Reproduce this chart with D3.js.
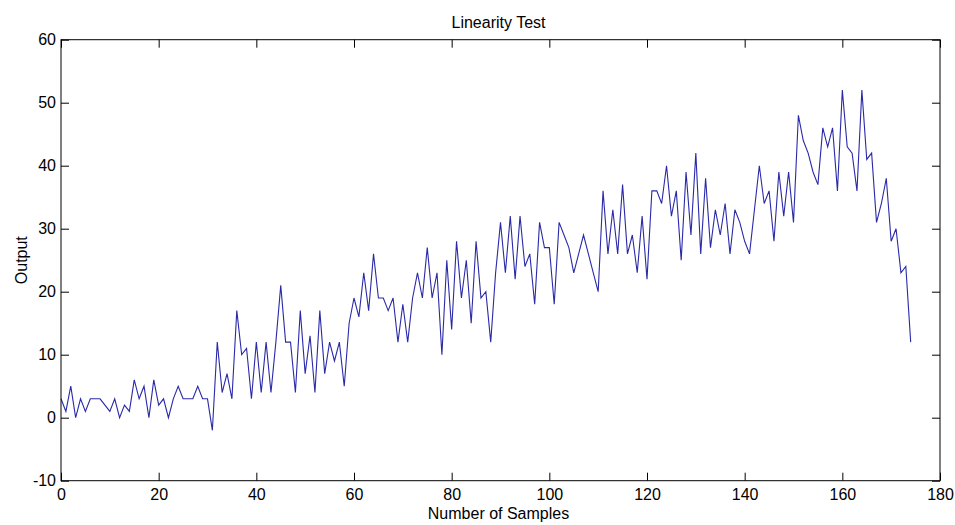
<!DOCTYPE html>
<html>
<head>
<meta charset="utf-8">
<script src="https://cdn.jsdelivr.net/npm/d3@7"></script>
<style>
  html, body { margin: 0; padding: 0; background: #fff; }
  svg { display: block; font-family: "Liberation Sans", Arial, sans-serif; }
</style>
</head>
<body>
<svg id="chart" width="955" height="525"></svg>
<script>
const titleText = "Linearity Test";
const xLabel = "Number of Samples";
const yLabel = "Output";
const xTicks = [0, 20, 40, 60, 80, 100, 120, 140, 160, 180];
const yTicks = [-10, 0, 10, 20, 30, 40, 50, 60];
const outputValues = [
  3, 1, 5, 0, 3, 1, 3, 3, 3, 2,
  1, 3, 0, 2, 1, 6, 3, 5, 0, 6,
  2, 3, 0, 3, 5, 3, 3, 3, 5, 3,
  3, -2, 12, 4, 7, 3, 17, 10, 11, 3,
  12, 4, 12, 4, 12, 21, 12, 12, 4, 17,
  7, 13, 4, 17, 7, 12, 9, 12, 5, 15,
  19, 16, 23, 17, 26, 19, 19, 17, 19, 12,
  18, 12, 19, 23, 19, 27, 19, 23, 10, 25,
  14, 28, 19, 25, 15, 28, 19, 20, 12, 23,
  31, 23, 32, 22, 32, 24, 26, 18, 31, 27,
  27, 18, 31, 29, 27, 23, 26, 29, 26, 23,
  20, 36, 26, 33, 26, 37, 26, 29, 23, 32,
  22, 36, 36, 34, 40, 32, 36, 25, 39, 29,
  42, 26, 38, 27, 33, 29, 34, 26, 33, 31,
  28, 26, 33, 40, 34, 36, 28, 39, 32, 39,
  31, 48, 44, 42, 39, 37, 46, 43, 46, 36,
  52, 43, 42, 36, 52, 41, 42, 31, 34, 38,
  28, 30, 23, 24, 12
];
const sampleIndex = outputValues.map((_, i) => i);

(function () {
const svg = d3.select("#chart");
const mLeft = 61, mRight = 940, mTop = 39.7, mBottom = 480.7;
const x = d3.scaleLinear().domain([0, 180]).range([mLeft, mRight]);
const y = d3.scaleLinear().domain([-10, 60]).range([mBottom, mTop]);
const fontSize = 16;
const plainFmt = d => String(d);

// line
const line = d3.line().x((d, i) => x(sampleIndex[i])).y(d => y(d));
svg.append("path")
  .datum(outputValues)
  .attr("fill", "none")
  .attr("stroke", "#2a2aa8")
  .attr("stroke-width", 1.1)
  .attr("stroke-linejoin", "miter")
  .attr("d", line);

// axes
function styleAxis(g) {
  g.select(".domain").remove();
  g.selectAll(".tick line").attr("stroke", "#000").attr("stroke-width", 1);
  g.selectAll(".tick text").attr("fill", "#000").attr("font-size", fontSize)
    .attr("font-family", "Liberation Sans, Arial, sans-serif");
}
svg.append("g").attr("transform", `translate(0,${mBottom})`)
  .call(d3.axisBottom(x).tickValues(xTicks).tickFormat(plainFmt).tickSizeInner(-8).tickSizeOuter(0).tickPadding(8))
  .call(styleAxis);
svg.append("g").attr("transform", `translate(0,${mTop})`)
  .call(d3.axisTop(x).tickValues(xTicks).tickSizeInner(-8).tickSizeOuter(0).tickFormat(""))
  .call(styleAxis);
svg.append("g").attr("transform", `translate(${mLeft},0)`)
  .call(d3.axisLeft(y).tickValues(yTicks).tickFormat(plainFmt).tickSizeInner(-8).tickSizeOuter(0).tickPadding(5))
  .call(styleAxis);
svg.append("g").attr("transform", `translate(${mRight},0)`)
  .call(d3.axisRight(y).tickValues(yTicks).tickSizeInner(-8).tickSizeOuter(0).tickFormat(""))
  .call(styleAxis);

// box
svg.append("rect")
  .attr("x", mLeft).attr("y", mTop)
  .attr("width", mRight - mLeft).attr("height", mBottom - mTop)
  .attr("fill", "none").attr("stroke", "#000").attr("stroke-width", 1);

// labels
svg.append("text")
  .attr("x", (mLeft + mRight) / 2 - 2).attr("y", 28)
  .attr("text-anchor", "middle").attr("font-size", fontSize).attr("fill", "#000")
  .text(titleText);
svg.append("text")
  .attr("x", (mLeft + mRight) / 2 - 2).attr("y", 519)
  .attr("text-anchor", "middle").attr("font-size", fontSize).attr("fill", "#000")
  .text(xLabel);
svg.append("text")
  .attr("transform", `translate(27,${(mTop + mBottom) / 2}) rotate(-90)`)
  .attr("text-anchor", "middle").attr("font-size", fontSize).attr("fill", "#000")
  .text(yLabel);
})();
</script>
</body>
</html>
